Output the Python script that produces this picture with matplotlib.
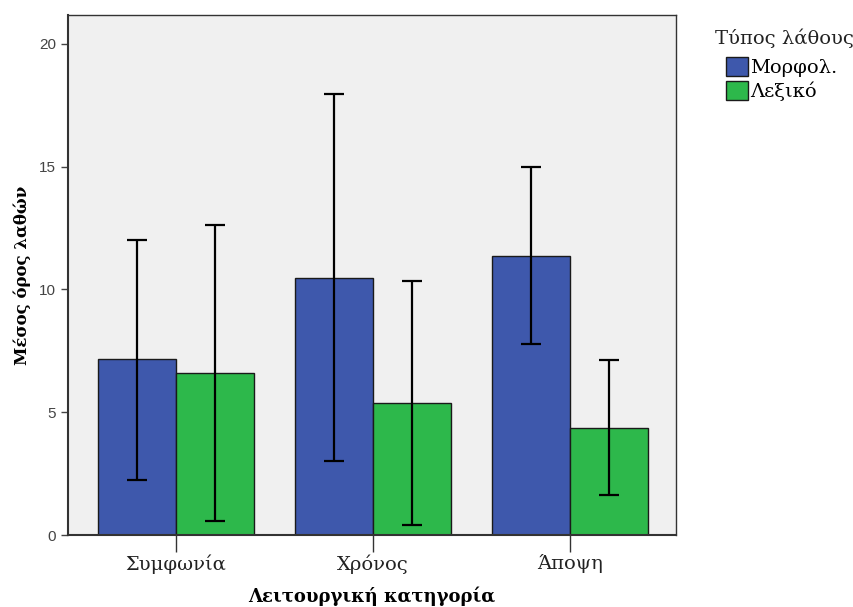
import matplotlib.pyplot as plt
import numpy as np

# Μέσοι όροι λαθών ανά λειτουργική κατηγορία
categories = ["Συμφωνία", "Χρόνος", "Άποψη"]
series = ["Μορφολ.", "Λεξικό"]
means_morph = [7.15, 10.47, 11.36]
means_lex = [6.58, 5.38, 4.36]
# όρια διαστημάτων (κάτω, πάνω)
low_morph = [2.24, 3.01, 7.78]
high_morph = [12.02, 17.96, 14.99]
low_lex = [0.57, 0.41, 1.63]
high_lex = [12.63, 10.35, 7.13]

colors = ["#3E58AC", "#2DB84B"]
serif = ["DejaVu Serif"]

fig = plt.figure(figsize=(8.54, 6.07), dpi=100)
ax = fig.add_axes([0.0796, 0.1186, 0.712, 0.8567])
ax.set_facecolor("#F0F0F0")

x = np.arange(len(categories))
w = 0.396
data = [(means_morph, low_morph, high_morph), (means_lex, low_lex, high_lex)]
for i, (m, lo, hi) in enumerate(data):
    pos = x + (i - 0.5) * w
    ax.bar(pos, m, width=w, color=colors[i], edgecolor="#1a1a1a",
           linewidth=1, label=series[i], zorder=2)
    m = np.array(m)
    err = [m - np.array(lo), np.array(hi) - m]
    ax.errorbar(pos, m, yerr=err, fmt="none", ecolor="black",
                elinewidth=1.6, capsize=7, capthick=1.6, zorder=3)

ax.set_xlim(-0.548, 2.538)
ax.set_ylim(0, 21.18)
ax.set_yticks([0, 5, 10, 15, 20])
ax.set_xticks(x)
ax.set_xticklabels(categories, fontfamily=serif, fontsize=14)
ax.tick_params(axis="y", labelsize=11, length=5, width=1, colors="#444444")
ax.tick_params(axis="x", length=12, width=1, colors="#333333", pad=2)
for lab in ax.get_yticklabels():
    lab.set_fontfamily("Liberation Sans")
for lab in ax.get_xticklabels():
    lab.set_color("#222222")
for s in ax.spines.values():
    s.set_color("#333333")
    s.set_linewidth(1)
ax.spines["left"].set_linewidth(1.5)
ax.spines["bottom"].set_linewidth(1.5)

ax.set_xlabel("Λειτουργική κατηγορία", fontfamily=serif, fontsize=13,
              fontweight="bold", labelpad=9)
ax.set_ylabel("Μέσος όρος λαθών", fontfamily=serif, fontsize=12,
              fontweight="bold", labelpad=6)

fig.text(715 / 854, 1 - 38 / 607, "Τύπος λάθους", fontfamily=serif,
         fontsize=14, ha="left", va="center", color="#222222")
leg = ax.legend(loc="upper left", bbox_to_anchor=(726 / 854, 1 - 57 / 607),
                bbox_transform=fig.transFigure, frameon=False,
                handlelength=1.13, handleheight=1.1,
                handletextpad=0.1, labelspacing=0.2, borderpad=0,
                borderaxespad=0, prop={"family": serif, "size": 14})

fig.savefig("out.png", dpi=100)
